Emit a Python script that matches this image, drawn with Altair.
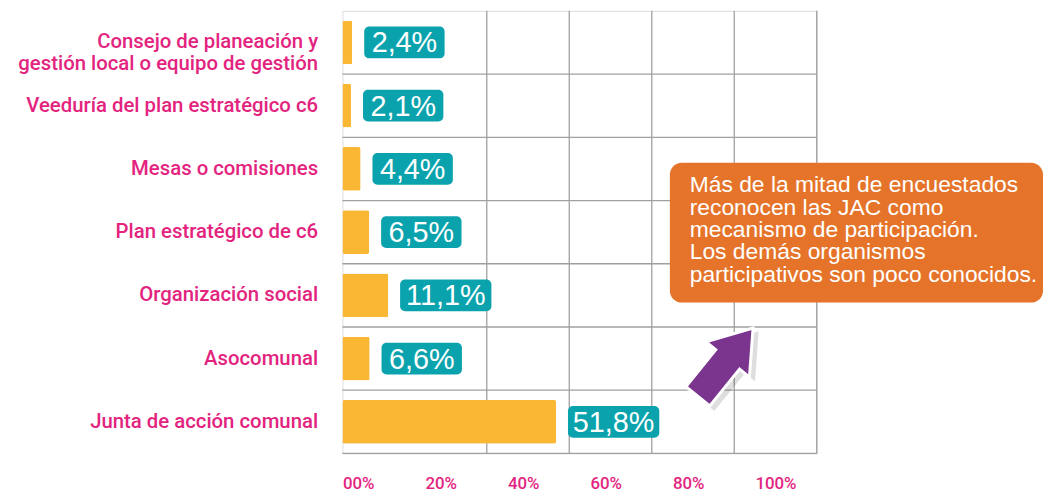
import altair as alt
import pandas as pd

# ---- data ----
categories = [
    "Consejo de planeación y|gestión local o equipo de gestión",
    "Veeduría del plan estratégico c6",
    "Mesas o comisiones",
    "Plan estratégico de c6",
    "Organización social",
    "Asocomunal",
    "Junta de acción comunal",
]
values = [2.4, 2.1, 4.4, 6.5, 11.1, 6.6, 51.8]
value_labels = ["2,4%", "2,1%", "4,4%", "6,5%", "11,1%", "6,6%", "51,8%"]
x_ticks = [0, 20, 40, 60, 80, 100]
x_tick_labels = ["00%", "20%", "40%", "60%", "80%", "100%"]
grid_x = [35, 55, 75, 95, 115]
note_lines = [
    "Más de la mitad de encuestados",
    "reconocen las JAC como",
    "mecanismo de participación.",
    "Los demás organismos",
    "participativos son poco conocidos.",
]

df = pd.DataFrame({"cat": categories, "value": values, "label": value_labels})
grid_df = pd.DataFrame({"value": grid_x})
note_df = pd.DataFrame({"t": ["\n".join(note_lines)]})

FONT = "Liberation Sans"
LFONT = "Roboto"
PINK = "#E3247F"
TEAL = "#0AA3AD"
YELLOW = "#F9B734"
ORANGE = "#E5742A"
PURPLE = "#7B358F"
GRID = "#A0A0A0"

W, H = 478, 446

label_expr = " : ".join(
    [f"datum.value == {v} ? '{l}'" for v, l in zip(x_ticks, x_tick_labels)]
) + " : ''"

xscale = alt.Scale(domain=[0, 115], nice=False, zero=True)
yscale = alt.Scale(domain=categories, paddingInner=0, paddingOuter=0)

x_axis = alt.Axis(
    values=x_ticks, labelExpr=label_expr, grid=False, domain=False, ticks=False,
    labelAlign="left", labelBaseline="top", labelPadding=22, labelColor=PINK,
    labelFont=LFONT, labelFontWeight=500, labelFontSize=17, title=None,
)
y_axis = alt.Axis(
    grid=False, domain=False, ticks=False, labelPadding=25, labelColor=PINK,
    labelFont=LFONT, labelFontWeight=500, labelFontSize=20.5, labelLimit=400,
    labelLineHeight=22, labelExpr="split(datum.label, '|')",
    minExtent=337, maxExtent=337, title=None,
)

X = alt.X("value:Q", scale=xscale, axis=x_axis)
Y = alt.Y("cat:N", scale=yscale, sort=categories, axis=y_axis)

base = alt.Chart(df)

vgrid = alt.Chart(grid_df).mark_rule(color=GRID, strokeWidth=1.3).encode(x=X)
hgrid = base.mark_rule(color=GRID, strokeWidth=1.3).encode(
    y=alt.Y("cat:N", scale=yscale, sort=categories, axis=y_axis, bandPosition=1)
)

bars = base.mark_bar(color=YELLOW, size=44, cornerRadius=2).encode(x=X, y=Y)

gap = 12
w4, w5 = 81, 92
box4 = base.transform_filter("length(datum.label) == 4").mark_bar(
    color=TEAL, size=32, cornerRadius=5, xOffset=gap, x2Offset=gap + w4
).encode(x=X, x2="value:Q", y=Y)
box5 = base.transform_filter("length(datum.label) == 5").mark_bar(
    color=TEAL, size=32, cornerRadius=5, xOffset=gap, x2Offset=gap + w5
).encode(x=X, x2="value:Q", y=Y)

txt4 = base.transform_filter("length(datum.label) == 4").mark_text(
    color="white", font=FONT, fontSize=29, align="center", baseline="middle",
    dx=gap + w4 / 2, dy=1
).encode(x=X, y=Y, text="label:N")
txt5 = base.transform_filter("length(datum.label) == 5").mark_text(
    color="white", font=FONT, fontSize=29, align="center", baseline="middle",
    dx=gap + w5 / 2, dy=1
).encode(x=X, y=Y, text="label:N")

note_box = alt.Chart(note_df).mark_rect(color=ORANGE, cornerRadius=12).encode(
    x=alt.value(330), x2=alt.value(706), y=alt.value(153), y2=alt.value(294)
)
note_text = alt.Chart(note_df).mark_text(
    color="white", font=FONT, fontSize=23, align="left", baseline="top",
    lineBreak="\n", lineHeight=22.5
).encode(x=alt.value(350), y=alt.value(165), text="t:N")

arrow_path = "M 0 -1 L 0.64 -0.08 L 0.35 -0.08 L 0.35 1 L -0.35 1 L -0.35 -0.08 L -0.64 -0.08 Z"
shadow = alt.Chart(note_df).mark_point(
    shape=arrow_path, filled=True, color="#000000", opacity=0.13, size=8200,
    angle=39, strokeWidth=0
).encode(x=alt.value(391), y=alt.value(358))
arrow = alt.Chart(note_df).mark_point(
    shape=arrow_path, filled=True, color=PURPLE, opacity=1, size=7800,
    angle=39, stroke="white", strokeWidth=3
).encode(x=alt.value(386), y=alt.value(354))

chart = alt.layer(
    vgrid, hgrid, bars, box4, box5, txt4, txt5, note_box, note_text, shadow, arrow
).properties(
    width=W, height=H,
    padding={"left": 0, "top": 0, "right": 0, "bottom": 0},
).configure_view(stroke=None).configure(background="white")

chart.save("out.html", embed_options={"renderer": "svg", "actions": False})
